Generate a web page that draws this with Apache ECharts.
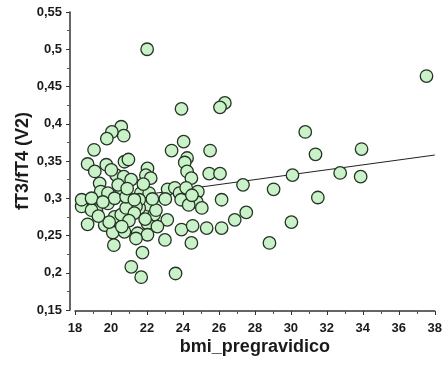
<!DOCTYPE html>
<html>
<head>
<meta charset="utf-8">
<script src="https://cdn.jsdelivr.net/npm/echarts@6/dist/echarts.min.js"></script>
<style>
  html, body { margin: 0; padding: 0; background: #fff; }
  #chart { width: 445px; height: 381px; }
</style>
</head>
<body>
<div id="chart"></div>
<script>
// bmi (x) and fT3/fT4 (y)
const bmi = [
  26.33, 26.06, 23.92, 30.8, 24.04, 23.37, 25.51, 24.23, 24.10, 24.23,
  24.47, 25.46, 26.06, 27.34, 30.09, 29.04, 26.15, 24.83, 24.77, 25.05,
  27.52, 26.88, 23.13, 23.92, 24.54, 25.32, 26.15, 24.47, 23.0, 30.03,
  28.81, 23.59, 37.54, 31.37, 33.93, 32.74, 33.88, 31.50, 22.01,
  23.15, 23.55, 23.81, 24.18, 23.9, 23.02, 24.32, 24.5,
  22.12, 22.40, 22.03, 22.58, 21.48, 22.03, 21.13, 21.68, 21.75,
  21.57, 22.03, 21.94, 22.21, 21.66, 22.12, 21.57, 21.39,
  18.70, 19.65, 20.10, 20.16, 20.75, 21.39, 18.55, 19.19, 19.83, 20.20,
  20.57, 20.84, 21.30, 18.37, 18.92,
  20.57, 20.71, 20.05, 19.77, 19.06, 18.70, 19.10, 19.74, 20.75, 20.97,
  20.29, 20.71, 20.02, 19.37, 19.43, 21.12, 20.57, 18.37, 18.92, 19.83,
  20.20, 20.84, 21.30, 19.55, 21.0, 20.4,
  19.9, 20.6, 21.9, 22.5, 19.3, 20.9, 21.8, 22.3
];
const ratio = [
  0.428, 0.422, 0.420, 0.389, 0.376, 0.364, 0.364, 0.354, 0.348, 0.336,
  0.327, 0.333, 0.333, 0.318, 0.331, 0.312, 0.298, 0.309, 0.295, 0.287,
  0.281, 0.271, 0.271, 0.258, 0.263, 0.260, 0.260, 0.240, 0.244, 0.268,
  0.240, 0.199, 0.464, 0.359, 0.366, 0.334, 0.329, 0.301, 0.500,
  0.312, 0.314, 0.307, 0.314, 0.298, 0.299, 0.291, 0.304,
  0.291, 0.278, 0.266, 0.262, 0.253, 0.251, 0.208, 0.194, 0.227,
  0.287, 0.340, 0.331, 0.327, 0.307, 0.307, 0.298, 0.289,
  0.265, 0.264, 0.254, 0.237, 0.255, 0.246, 0.291, 0.284, 0.293, 0.275,
  0.278, 0.287, 0.280, 0.289, 0.284,
  0.396, 0.384, 0.389, 0.380, 0.365, 0.346, 0.336, 0.345, 0.349, 0.352,
  0.331, 0.329, 0.338, 0.320, 0.309, 0.325, 0.311, 0.298, 0.300, 0.307,
  0.300, 0.302, 0.298, 0.295, 0.270, 0.318,
  0.268, 0.262, 0.272, 0.284, 0.276, 0.313, 0.319, 0.299
];
// regression line end points
const fitX = [18, 38];
const fitY = [0.292, 0.358];

const xTicks = { min: 18, max: 38, interval: 2 };
const yTicks = { min: 0.15, max: 0.55, interval: 0.05 };

const FONT = '"Liberation Sans Narrow", "Liberation Sans", Arial, sans-serif';

const chart = echarts.init(document.getElementById('chart'), null, { renderer: 'canvas' });
chart.setOption({
  animation: false,
  backgroundColor: '#ffffff',
  grid: { left: 75, right: 6, top: 12, bottom: 71 },
  xAxis: {
    type: 'value',
    min: xTicks.min,
    max: xTicks.max,
    interval: xTicks.interval,
    offset: 1,
    name: 'bmi_pregravidico',
    nameLocation: 'middle',
    nameGap: 27,
    nameMoveOverlap: false,
    nameTextStyle: { fontFamily: FONT, fontWeight: 'bold', fontSize: 18, color: '#1a1a1a', verticalAlign: 'top' },
    axisLine: { lineStyle: { color: '#333', width: 1.5 } },
    axisTick: { length: 4, lineStyle: { color: '#333' } },
    minorTick: { show: true, splitNumber: 2, length: 3, lineStyle: { color: '#555' } },
    splitLine: { show: false },
    axisLabel: { fontFamily: FONT, fontWeight: 'bold', fontSize: 13, color: '#1a1a1a', margin: 11 }
  },
  yAxis: {
    type: 'value',
    min: yTicks.min,
    max: yTicks.max,
    interval: yTicks.interval,
    offset: 5,
    name: 'fT3/fT4 (V2)',
    nameLocation: 'middle',
    nameGap: 38,
    nameMoveOverlap: false,
    nameTextStyle: { fontFamily: FONT, fontWeight: 'bold', fontSize: 18, color: '#1a1a1a' },
    axisLine: { show: true, lineStyle: { color: '#333', width: 1.5 } },
    axisTick: { show: true, length: 4, lineStyle: { color: '#333' } },
    minorTick: { show: true, splitNumber: 2, length: 3, lineStyle: { color: '#555' } },
    splitLine: { show: false },
    axisLabel: {
      fontFamily: FONT, fontWeight: 'bold', fontSize: 13, color: '#1a1a1a', margin: 8,
      formatter: v => String(Math.round(v * 100) / 100).replace('.', ',')
    }
  },
  series: [
    {
      type: 'line',
      data: fitX.map((x, i) => [x, fitY[i]]),
      symbol: 'none',
      lineStyle: { color: '#222', width: 1 },
      z: 1
    },
    {
      type: 'scatter',
      data: bmi.map((x, i) => [x, ratio[i]]),
      symbolSize: 12.5,
      itemStyle: { color: '#c9f2c9', borderColor: '#243324', borderWidth: 1.3, opacity: 1 },
      z: 2
    }
  ]
});
</script>
</body>
</html>
